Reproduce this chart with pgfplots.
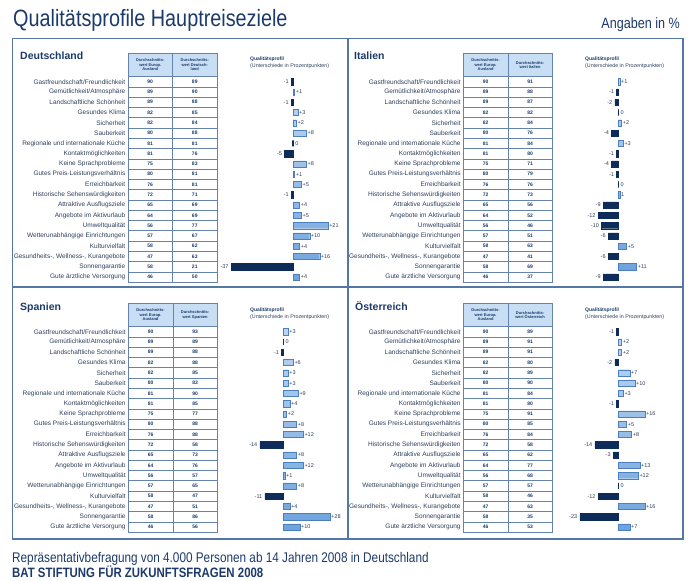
\documentclass[border=0pt]{standalone}
\usepackage{pgfplots}
\pgfplotsset{compat=1.18}
\usepackage{pgfplotstable}
\usepackage{fontspec}
\setmainfont{Liberation Sans}
\newfontfamily\narrowfont[FakeStretch=0.84]{Liberation Sans}

\definecolor{navy}{HTML}{1B3A6B}
\definecolor{labcol}{HTML}{2E3E5C}
\definecolor{framecol}{HTML}{5577A6}
\definecolor{tlinecol}{HTML}{6683AE}
\definecolor{hdrfill}{HTML}{C8DEF4}
\definecolor{negcol}{HTML}{0E2C5A}
\definecolor{postop}{HTML}{BCD5F1}
\definecolor{posbot}{HTML}{6FA3DD}
\definecolor{posdraw}{HTML}{4C7FBF}

% row, Europ. Ausland, Zielland, Differenz, Beschriftung
\pgfplotstableread{
row eu land diff lab
1 90 89 -1 -1
2 89 90 1 +1
3 89 88 -1 -1
4 82 85 3 +3
5 82 84 2 +2
6 80 88 8 +8
7 81 81 0 0
8 81 76 -5 -5
9 75 83 8 +8
10 80 81 1 +1
11 76 81 5 +5
12 72 71 -1 -1
13 65 69 4 +4
14 64 69 5 +5
15 56 77 21 +21
16 57 67 10 +10
17 58 62 4 +4
18 47 63 16 +16
19 58 21 -37 -37
20 46 50 4 +4
}\tblDE

\pgfplotstableread{
row eu land diff lab
1 90 91 1 +1
2 89 88 -1 -1
3 89 87 -2 -2
4 82 82 0 0
5 82 84 2 +2
6 80 76 -4 -4
7 81 84 3 +3
8 81 80 -1 -1
9 75 71 -4 -4
10 80 79 -1 -1
11 76 76 0 0
12 72 73 1 1
13 65 56 -9 -9
14 64 52 -12 -12
15 56 46 -10 -10
16 57 51 -6 -6
17 58 63 5 +5
18 47 41 -6 -6
19 58 69 11 +11
20 46 37 -9 -9
}\tblIT

\pgfplotstableread{
row eu land diff lab
1 90 93 3 +3
2 89 89 0 0
3 89 88 -1 -1
4 82 88 6 +6
5 82 85 3 +3
6 80 83 3 +3
7 81 90 9 +9
8 81 85 4 +4
9 75 77 2 +2
10 80 88 8 +8
11 76 88 12 +12
12 72 58 -14 -14
13 65 73 8 +8
14 64 76 12 +12
15 56 57 1 +1
16 57 65 8 +8
17 58 47 -11 -11
18 47 51 4 +4
19 58 86 28 +28
20 46 56 10 +10
}\tblES

\pgfplotstableread{
row eu land diff lab
1 90 89 -1 -1
2 89 91 2 +2
3 89 91 2 +2
4 82 80 -2 -2
5 82 89 7 +7
6 80 90 10 +10
7 81 84 3 +3
8 81 80 -1 -1
9 75 91 16 +16
10 80 85 5 +5
11 76 84 8 +8
12 72 58 -14 -14
13 65 62 -3 -3
14 64 77 13 +13
15 56 68 12 +12
16 57 57 0 0
17 58 46 -12 -12
18 47 63 16 +16
19 58 35 -23 -23
20 46 53 7 +7
}\tblAT

\tikzset{
  barlab/.style={font=\fontsize{5.5}{6}\selectfont, text=labcol, inner sep=1pt},
  hdr/.style={align=center, inner sep=0pt, text=navy,
    font=\bfseries\fontsize{4}{4.6}\selectfont},
}

\pgfplotsset{
  panel/.style={
    y dir=reverse, x=1.67pt, y=10.28pt,
    ymin=0.5, ymax=20.5,
    anchor=north west, clip=false,
    axis line style={draw=none},
    tick style={draw=none},
    major tick length=0pt,
    xtick=\empty, ytick={1,...,20},
    yticklabels={Gastfreundschaft/Freundlichkeit, Gemütlichkeit/Atmosphäre,
      Landschaftliche Schönheit, Gesundes Klima, Sicherheit, Sauberkeit,
      Regionale und internationale Küche, Kontaktmöglichkeiten,
      Keine Sprachprobleme, Gutes Preis-Leistungsverhältnis, Erreichbarkeit,
      Historische Sehenswürdigkeiten, Attraktive Ausflugsziele,
      Angebote im Aktivurlaub, Umweltqualität, Wetterunabhängige Einrichtungen,
      Kulturvielfalt, {Gesundheits-, Wellness-, Kurangebote}, Sonnengarantie,
      Gute ärztliche Versorgung},
    yticklabel style={font=\fontsize{6.5}{7}\selectfont, text=labcol,
      inner sep=0pt, xshift=-2.5pt},
  },
  posbar/.style={xbar, bar width=6.2pt, bar shift=0pt, draw=posdraw,
    top color=postop, bottom color=posbot,
    restrict x to domain=0.5:100,
    nodes near coords, point meta=explicit symbolic,
    every node near coord/.append style={barlab, anchor=west}},
  negbar/.style={xbar, bar width=6.2pt, bar shift=0pt, draw=negcol, fill=negcol,
    restrict x to domain=-100:-0.5,
    nodes near coords, point meta=explicit symbolic,
    every node near coord/.append style={barlab, anchor=east, inner xsep=2.5pt}},
  zerobar/.style={xbar, bar width=6.2pt, bar shift=0pt, draw=negcol, fill=negcol,
    line width=1.1pt,
    restrict x to domain=-0.5:0.5,
    nodes near coords, point meta=explicit symbolic,
    every node near coord/.append style={barlab, anchor=west, xshift=0.8pt}},
  numtext/.style={only marks, mark=none,
    nodes near coords, point meta=explicit symbolic,
    every node near coord/.append style={anchor=center,
      font=\bfseries\fontsize{5}{5.5}\selectfont, text=navy}},
}

% #1 table, #2 left of table, #3 top of table body, #4 xmin, #5 xmax,
% #6 and #7 centres of the two number columns in axis units
\newcommand\panel[7]{%
  \begin{axis}[panel, at={(#2pt,-#3pt)}, xmin=#4, xmax=#5]
    \addplot[posbar] table[x=diff, y=row, meta=lab]{#1};
    \addplot[negbar] table[x=diff, y=row, meta=lab]{#1};
    \addplot[zerobar] table[x=diff, y=row, meta=lab]{#1};
    \addplot[numtext] table[x expr=#6, y=row, meta=eu]{#1};
    \addplot[numtext] table[x expr=#7, y=row, meta=land]{#1};
  \end{axis}}

% table frame: #1 left, #2 top of body, #3 second header
\newcommand\tablegrid[3]{%
  \begin{scope}[x=1pt, y=-1pt, tlinecol, line width=0.6pt]
    \draw[fill=hdrfill] (#1,#2-23.2) rectangle (#1+44.5,#2);
    \draw[fill=hdrfill] (#1+44.5,#2-23.2) rectangle (#1+89,#2);
    \node[hdr] at (#1+22.25,#2-11.6) {Durchschnitts-\\wert Europ.\\Ausland};
    \node[hdr] at (#1+66.75,#2-11.6) {#3};
    \foreach \j in {1,...,20} \draw (#1,#2+\j*10.28) -- (#1+89,#2+\j*10.28);
    \draw (#1,#2) rectangle (#1+89,#2+205.6);
    \draw (#1+44.5,#2) -- (#1+44.5,#2+205.6);
  \end{scope}}

\newcommand\paneltext[4]{% #1 title x, #2 title baseline, #3 profile x, #4 title
  \begin{scope}[x=1pt, y=-1pt]
    \node[anchor=base west, inner sep=0pt, text=navy,
      font=\bfseries\fontsize{10.5}{12}\selectfont] at (#1,#2) {#4};
    \node[anchor=base west, inner sep=0pt, text=navy,
      font=\bfseries\fontsize{5}{6}\selectfont] at (#3,#2+1) {Qualitätsprofil};
    \node[anchor=base west, inner sep=0pt, text=labcol,
      font=\fontsize{5.3}{6}\selectfont] at (#3,#2+8) {(Unterschiede in Prozentpunkten)};
  \end{scope}}

\begin{document}
\begin{tikzpicture}
  \useasboundingbox (0pt,0pt) rectangle (700pt,-580pt);

  \begin{scope}[x=1pt, y=-1pt]
    \node[anchor=base west, inner sep=0pt, text=navy,
      font=\narrowfont\fontsize{23.6}{28}\selectfont] at (13,27)
      {Qualitätsprofile Hauptreiseziele};
    \node[anchor=base east, inner sep=0pt, text=navy,
      font=\narrowfont\fontsize{15}{18}\selectfont] at (680,29) {Angaben in \%};
    \draw[framecol, line width=1.4pt] (12.7,38.3) rectangle (683,539);
    \draw[framecol, line width=1.4pt] (348,38.3) -- (348,539);
    \draw[framecol, line width=1.4pt] (12.7,287) -- (683,287);
    \node[anchor=base west, inner sep=0pt, text=navy,
      font=\narrowfont\fontsize{14}{16}\selectfont] at (12,562)
      {Repräsentativbefragung von 4.000 Personen ab 14 Jahren 2008 in Deutschland};
    \node[anchor=base west, inner sep=0pt, text=navy,
      font=\narrowfont\bfseries\fontsize{13.6}{16}\selectfont] at (12,577.5)
      {BAT STIFTUNG FÜR ZUKUNFTSFRAGEN 2008};
  \end{scope}

  \paneltext{20}{60}{250}{Deutschland}
  \paneltext{354}{60}{585}{Italien}
  \paneltext{20}{310}{250}{Spanien}
  \paneltext{355}{310}{585}{Österreich}

  \tablegrid{128}{76.56}{Durchschnitts-\\wert Deutsch-\\land}
  \tablegrid{463.3}{76.56}{Durchschnitts-\\wert Italien}
  \tablegrid{128.3}{326.56}{Durchschnitts-\\wert Spanien}
  \tablegrid{463.3}{326.56}{Durchschnitts-\\wert Österreich}

  \panel{\tblDE}{128}{76.56}{-98.8}{31}{-85.48}{-58.83}
  \panel{\tblIT}{463.3}{76.56}{-92.8}{37}{-79.48}{-52.83}
  \panel{\tblES}{128.3}{326.56}{-92.8}{37}{-79.48}{-52.83}
  \panel{\tblAT}{463.3}{326.56}{-92.8}{37}{-79.48}{-52.83}
\end{tikzpicture}
\end{document}
